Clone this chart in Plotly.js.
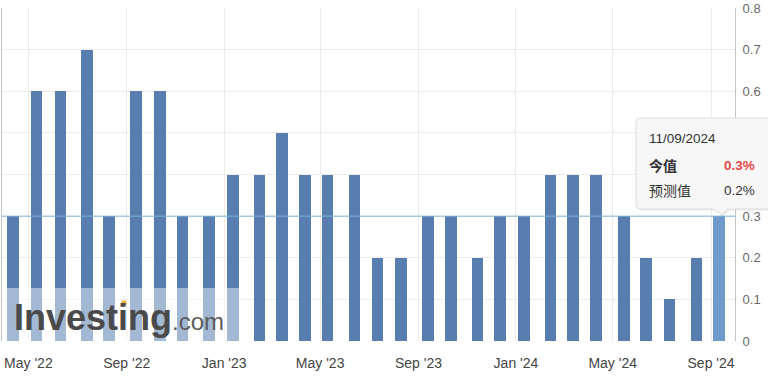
<!DOCTYPE html>
<html>
<head>
<meta charset="utf-8">
<script src="https://cdn.plot.ly/plotly-3.0.1.min.js"></script>
<style>
html,body{margin:0;padding:0;background:#fff;}
#chart{width:768px;height:380px;}
</style>
</head>
<body>
<div id="chart"></div>
<script>
// Release dates (x) and actual values (y)
var releaseDates = [
  "2022-04-12","2022-05-11","2022-06-10","2022-07-13","2022-08-10","2022-09-13",
  "2022-10-13","2022-11-10","2022-12-13","2023-01-12","2023-02-14","2023-03-14",
  "2023-04-12","2023-05-10","2023-06-13","2023-07-12","2023-08-10","2023-09-13",
  "2023-10-12","2023-11-14","2023-12-12","2024-01-11","2024-02-13","2024-03-12",
  "2024-04-10","2024-05-15","2024-06-12","2024-07-11","2024-08-14","2024-09-11"
];
var actualValues = [
  0.3,0.6,0.6,0.7,0.3,0.6,
  0.6,0.3,0.3,0.4,0.4,0.5,
  0.4,0.4,0.4,0.2,0.2,0.3,
  0.3,0.2,0.3,0.3,0.4,0.4,
  0.4,0.3,0.2,0.1,0.2,0.3
];
var yTickValues = [0,0.1,0.2,0.3,0.4,0.5,0.6,0.7,0.8];
var yTickLabels = ["0","0.1","0.2","0.3","0.4","0.5","0.6","0.7","0.8"];
// tick labels hidden behind the hover tooltip in the reference
var coveredTicks = [0.4, 0.5];
var tipDate = "11/09/2024";
var tipActual = "0.3%";
var tipForecast = "0.2%";
var tipActualLabel = "今值";
var tipForecastLabel = "预测值";

var baseColor = "#587eb0";
var hoverColor = "#6f9bcc";
var tipBg = "#f7f7f7";
var colors = actualValues.map(function(v,i){ return i === actualValues.length-1 ? hoverColor : baseColor; });
var shownTickText = yTickLabels.map(function(t,i){ return coveredTicks.indexOf(yTickValues[i]) >= 0 ? "" : t; });

// pixel -> paper helpers (plot area: x 2..735, y 8..341)
function px(x){ return (x-2)/733; }
function py(y){ return (341-y)/333; }

var trace = {
  type: "bar",
  x: releaseDates,
  y: actualValues,
  width: 14.5*86400000,
  marker: {color: colors, line: {width: 0}},
  hoverinfo: "skip"
};

var tipL = px(636), tipR = px(774), tipT = py(118), tipB = py(209);
var rx = 4/733, ry = 4/333;
var tipX = px(721), tipY = py(215);
var pw = 7/733;
function tipPath(dx, dy){
  var L=tipL+dx, R=tipR+dx, T=tipT+dy, B=tipB+dy, X=tipX+dx, Y=tipY+dy;
  return "M"+(L+rx)+","+T+" L"+(R-rx)+","+T+" Q"+R+","+T+" "+R+","+(T-ry)+
    " L"+R+","+(B+ry)+" Q"+R+","+B+" "+(R-rx)+","+B+
    " L"+(X+pw)+","+B+" L"+X+","+Y+" L"+(X-pw)+","+B+
    " L"+(L+rx)+","+B+" Q"+L+","+B+" "+L+","+(B+ry)+
    " L"+L+","+(T-ry)+" Q"+L+","+T+" "+(L+rx)+","+T+" Z";
}

var font = "Liberation Sans, Arial, sans-serif";
var cjk = "Noto Sans CJK SC, Liberation Sans, sans-serif";

var layout = {
  width: 768, height: 380,
  margin: {l: 2, r: 33, t: 8, b: 39},
  paper_bgcolor: "#ffffff",
  plot_bgcolor: "#ffffff",
  showlegend: false,
  bargap: 0,
  xaxis: {
    type: "date",
    range: ["2022-03-29", "2024-10-01"],
    tick0: "2022-01-01",
    dtick: "M4",
    tickformat: "%b '%y",
    showgrid: true,
    gridcolor: "#ececec",
    gridwidth: 1,
    zeroline: false,
    showline: false,
    ticks: "",
    ticklabelstandoff: 12,
    tickfont: {family: font, size: 14, color: "#444444"},
    fixedrange: true
  },
  yaxis: {
    side: "right",
    range: [0, 0.8],
    tickvals: yTickValues,
    ticktext: shownTickText,
    showgrid: true,
    gridcolor: "#ececec",
    gridwidth: 1,
    zeroline: false,
    showline: true,
    linecolor: "#c4c4c4",
    linewidth: 1,
    mirror: true,
    ticks: "",
    ticklabelstandoff: 4,
    tickfont: {family: font, size: 13, color: "#6a6a6a"},
    fixedrange: true
  },
  shapes: [
    // watermark backdrop
    {type: "rect", xref: "paper", yref: "paper", x0: 0, x1: px(240), y0: 0, y1: py(288),
     fillcolor: "rgba(255,255,255,0.45)", line: {width: 0}, layer: "above"},
    // crosshair line at current value
    {type: "line", xref: "paper", yref: "y", x0: 0, x1: 1, y0: actualValues[actualValues.length-1], y1: actualValues[actualValues.length-1],
     line: {color: "#7fb3dc", width: 1}, layer: "above"},
    // tooltip shadow
    {type: "path", xref: "paper", yref: "paper", path: tipPath(1.5/733, -1.5/333),
     fillcolor: "rgba(0,0,0,0.08)", line: {width: 0}, layer: "above"},
    // tooltip box
    {type: "path", xref: "paper", yref: "paper", path: tipPath(0, 0),
     fillcolor: tipBg, line: {color: "#dedede", width: 1}, layer: "above"},
    // yellow dot on the i of the logo
    {type: "rect", xref: "paper", yref: "paper", x0: px(121.5), x1: px(126.5), y0: py(305), y1: py(300.5),
     fillcolor: "#f2b53a", line: {width: 0}, layer: "above"}
  ],
  annotations: [
    {xref: "paper", yref: "paper", x: px(12), y: py(317), xanchor: "left", yanchor: "middle",
     showarrow: false,
     text: "<b>Investing</b><span style='font-size:24px;color:#5c5c5c'>.com</span>",
     font: {family: font, size: 36, color: "#4a4a4a"}},
    {xref: "paper", yref: "paper", x: px(647), y: py(138), xanchor: "left", yanchor: "middle",
     showarrow: false, text: tipDate, font: {family: font, size: 13.5, color: "#333333"}},
    {xref: "paper", yref: "paper", x: px(647), y: py(165), xanchor: "left", yanchor: "middle",
     showarrow: false, text: "<b>" + tipActualLabel + "</b>", font: {family: cjk, size: 14, color: "#333333"}},
    {xref: "paper", yref: "paper", x: px(757), y: py(165), xanchor: "right", yanchor: "middle",
     showarrow: false, text: "<b>" + tipActual + "</b>", font: {family: font, size: 13.5, color: "#e5484a"}},
    {xref: "paper", yref: "paper", x: px(647), y: py(190), xanchor: "left", yanchor: "middle",
     showarrow: false, text: tipForecastLabel, font: {family: cjk, size: 14, color: "#333333"}},
    {xref: "paper", yref: "paper", x: px(757), y: py(190), xanchor: "right", yanchor: "middle",
     showarrow: false, text: tipForecast, font: {family: font, size: 13.5, color: "#333333"}}
  ]
};

Plotly.newPlot("chart", [trace], layout, {displayModeBar: false, staticPlot: true});
</script>
</body>
</html>
